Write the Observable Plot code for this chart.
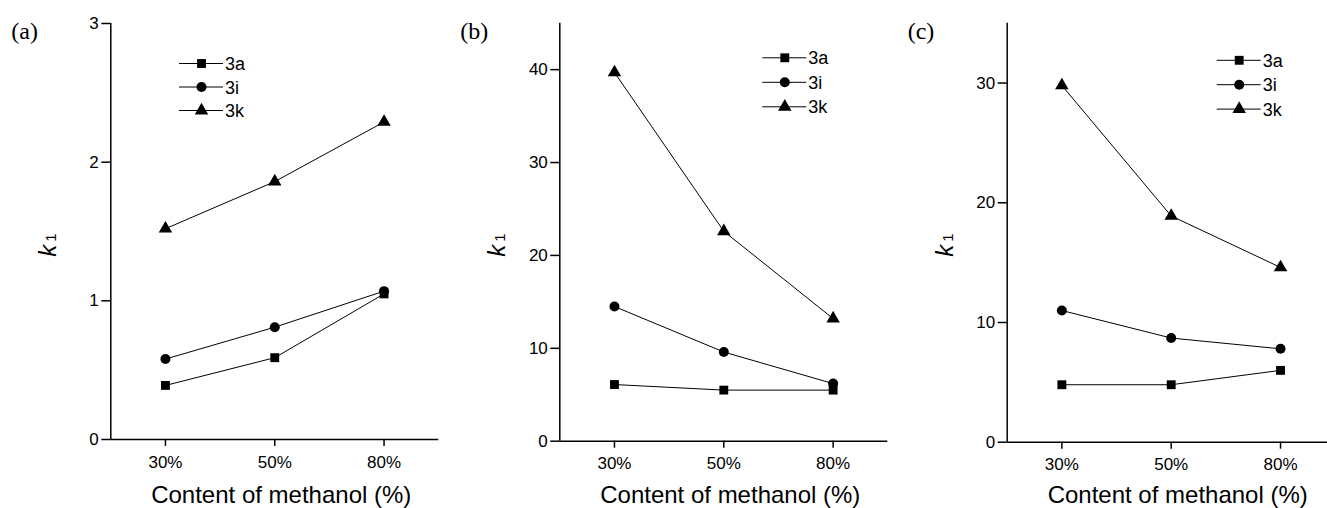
<!DOCTYPE html>
<html>
<head>
<meta charset="utf-8">
<script src="https://cdn.jsdelivr.net/npm/d3@7"></script>
<script src="https://cdn.jsdelivr.net/npm/@observablehq/plot@0.6"></script>
<style>
  html, body { margin: 0; padding: 0; background: white; overflow: hidden; }
  #wrap { position: relative; width: 1327px; height: 508px; overflow: hidden; }
  #wrap svg { position: absolute; top: 0; }
</style>
</head>
<body>
<div id="wrap"></div>
<script>
// ---- data ----
const categories = ["30%", "50%", "80%"];
const seriesNames = ["3a", "3i", "3k"];
const symbols = ["square", "circle", "triangle"];

const a3a = [0.39, 0.59, 1.05];
const a3i = [0.58, 0.81, 1.07];
const a3k = [1.52, 1.86, 2.29];

const b3a = [6.1, 5.5, 5.5];
const b3i = [14.5, 9.6, 6.2];
const b3k = [39.7, 22.6, 13.2];

const c3a = [4.8, 4.8, 6.0];
const c3i = [11.0, 8.7, 7.8];
const c3k = [29.8, 18.9, 14.6];

const yTicksA = [0, 1, 2, 3];
const yTicksB = [0, 10, 20, 30, 40];
const yTicksC = [0, 10, 20, 30];

const panelLabels = ["(a)", "(b)", "(c)"];
const xTitle = "Content of methanol (%)";

const SANS = "'Liberation Sans', Arial, sans-serif";

function rows(s3a, s3i, s3k) {
  const out = [];
  [s3a, s3i, s3k].forEach((vals, si) => {
    vals.forEach((v, ci) => out.push({series: seriesNames[si], cat: categories[ci], xi: ci + 1, value: v}));
  });
  return out;
}

const panels = [
  {data: rows(a3a, a3i, a3k), yDomain: [0, 3], yTicks: yTicksA, left: 0, width: 450,
   ml: 110.3, mr: 11.8, mt: 23, mb: 69, legendX: 179, legendY: 63.5, legendStep: 23.5, label: panelLabels[0]},
  {data: rows(b3a, b3i, b3k), yDomain: [0, 45], yTicks: yTicksB, left: 450, width: 440,
   ml: 109.3, mr: 2.7, mt: 22.7, mb: 67.3, legendX: 312.3, legendY: 57.8, legendStep: 24.5, label: panelLabels[1]},
  {data: rows(c3a, c3i, c3k), yDomain: [0, 35], yTicks: yTicksC, left: 890, width: 455,
   ml: 116.7, mr: 10.3, mt: 22.7, mb: 66.3, legendX: 326.7, legendY: 60.3, legendStep: 24.4, label: panelLabels[2]}
];

const wrap = document.getElementById("wrap");

panels.forEach(p => {
  const plot = Plot.plot({
    width: p.width,
    height: 508,
    marginLeft: p.ml,
    marginRight: p.mr,
    marginTop: p.mt,
    marginBottom: p.mb,
    style: {fontFamily: SANS, fontSize: "17px", color: "black", background: "white", overflow: "visible"},
    x: {type: "linear", domain: [0.5, 3.5]},
    y: {domain: p.yDomain},
    symbol: {domain: seriesNames, range: symbols},
    marks: [
      Plot.axisX({ticks: [1, 2, 3], tickFormat: i => categories[i - 1], tickSize: 7, tickPadding: 9, label: null,
                  strokeWidth: 1.5, fontSize: 17, fontFamily: SANS}),
      Plot.axisY({ticks: p.yTicks, tickFormat: d => String(d), tickSize: 9, tickPadding: 3, label: null,
                  strokeWidth: 1.5, fontSize: 17, fontFamily: SANS}),
      Plot.ruleY([p.yDomain[0]], {stroke: "black", strokeWidth: 1.5}),
      Plot.ruleX([0.5], {stroke: "black", strokeWidth: 1.5}),
      Plot.line(p.data, {x: "xi", y: "value", z: "series", stroke: "black", strokeWidth: 1}),
      Plot.dot(p.data, {x: "xi", y: "value", symbol: "series", fill: "black", stroke: "none", r: 5})
    ]
  });
  plot.style.left = p.left + "px";
  wrap.appendChild(plot);

  const svg = d3.select(plot);
  // force tick label font on Plot's own axis texts
  svg.selectAll("text")
    .style("font-size", "17px")
    .style("font-family", SANS)
    .attr("fill", "black");

  const xs = plot.scale("x");
  const plotLeft = xs.apply(0.5);
  const midX = xs.apply(2);

  // panel label
  svg.append("text")
    .attr("x", plotLeft - 99).attr("y", 38.5)
    .attr("text-anchor", "start")
    .style("font-family", "'Liberation Serif', 'Times New Roman', serif")
    .style("font-size", "24px").attr("fill", "black")
    .text(p.label);

  // x axis title
  svg.append("text")
    .attr("x", midX + 7).attr("y", 503)
    .attr("text-anchor", "middle")
    .style("font-family", SANS)
    .style("font-size", "24px").attr("fill", "black")
    .text(xTitle);

  // y axis title: italic k with smaller 1
  const yt = svg.append("text")
    .attr("transform", `translate(${plotLeft - 54},245) rotate(-90)`)
    .attr("text-anchor", "middle").style("font-family", SANS).attr("fill", "black");
  yt.append("tspan").style("font-style", "italic").style("font-size", "24px").text("k");
  yt.append("tspan").style("font-size", "15px").attr("dx", 3).text("1");

  // legend
  const lg = svg.append("g");
  seriesNames.forEach((name, i) => {
    const y = p.legendY + i * p.legendStep;
    lg.append("line")
      .attr("x1", p.legendX).attr("x2", p.legendX + 44)
      .attr("y1", y).attr("y2", y)
      .attr("stroke", "black").attr("stroke-width", 1);
    const sym = [d3.symbolSquare, d3.symbolCircle, d3.symbolTriangle][i];
    lg.append("path")
      .attr("d", d3.symbol(sym, Math.PI * 25)())
      .attr("transform", `translate(${p.legendX + 22.5},${y})`)
      .attr("fill", "black");
    lg.append("text")
      .attr("x", p.legendX + 46).attr("y", y + 6.5)
      .attr("text-anchor", "start")
      .style("font-family", SANS)
      .style("font-size", "18px").attr("fill", "black")
      .text(name);
  });
});
</script>
</body>
</html>
